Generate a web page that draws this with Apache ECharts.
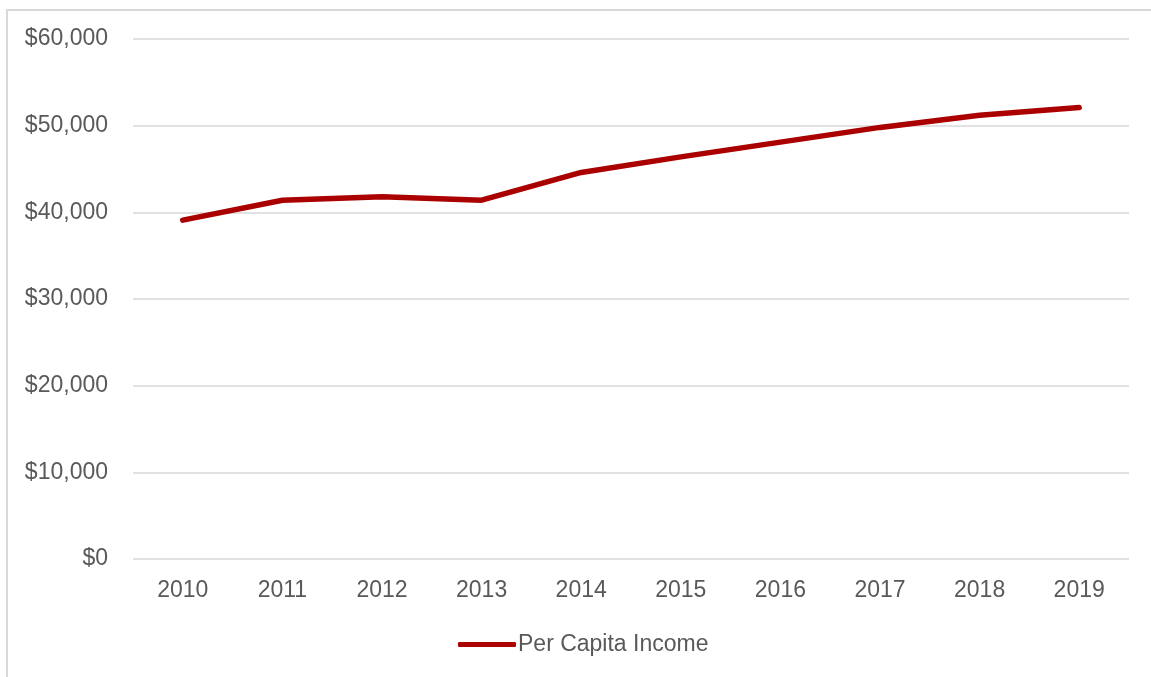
<!DOCTYPE html>
<html>
<head>
<meta charset="utf-8">
<script src="https://cdn.jsdelivr.net/npm/echarts@6/dist/echarts.min.js"></script>
<style>
  html, body { margin: 0; padding: 0; background: #fff; overflow: hidden; }
  #chart { width: 1151px; height: 677px; }
</style>
</head>
<body>
<div id="chart"></div>
<script>
// Per capita income by year
const years = ['2010', '2011', '2012', '2013', '2014', '2015', '2016', '2017', '2018', '2019'];
const perCapitaIncome = [39100, 41400, 41800, 41400, 44600, 46400, 48100, 49800, 51200, 52100];
const seriesName = 'Per Capita Income';

const textColor = '#595959';
const gridColor = '#d9d9d9';
const lineColor = '#ab0000';
const fontFamily = '"Liberation Sans", Arial, sans-serif';

const chart = echarts.init(document.getElementById('chart'), null, { renderer: 'canvas' });

chart.setOption({
  animation: false,
  backgroundColor: '#fff',
  textStyle: { fontFamily: fontFamily },
  graphic: [{
    type: 'rect',
    silent: true,
    z: -10,
    shape: { x: 7, y: 10, width: 1300, height: 800 },
    style: { fill: 'none', stroke: gridColor, lineWidth: 2 }
  }],
  grid: { left: 133, right: 22, top: 39, bottom: 118 },
  legend: {
    data: [seriesName],
    left: 453,
    top: 628,
    icon: 'roundRect',
    itemWidth: 58,
    itemHeight: 5,
    itemGap: 10,
    textStyle: { color: textColor, fontSize: 23, fontFamily: fontFamily, padding: [0, 0, 0, -3] }
  },
  xAxis: {
    type: 'category',
    data: years,
    boundaryGap: true,
    axisLine: { show: false },
    axisTick: { show: false },
    axisLabel: { color: textColor, fontSize: 23, margin: 20, fontFamily: fontFamily }
  },
  yAxis: {
    type: 'value',
    min: 0,
    max: 60000,
    interval: 10000,
    axisLine: { show: false },
    axisTick: { show: false },
    splitLine: { lineStyle: { color: gridColor, width: 1.5 } },
    axisLabel: {
      color: textColor,
      fontSize: 23,
      margin: 25,
      fontFamily: fontFamily,
      padding: [3, 0, 0, 0],
      formatter: v => '$' + v.toLocaleString('en-US')
    }
  },
  series: [{
    name: seriesName,
    type: 'line',
    data: perCapitaIncome,
    showSymbol: false,
    symbol: 'none',
    color: lineColor,
    lineStyle: { color: lineColor, width: 5.5, cap: 'round', join: 'round' },
    itemStyle: { color: lineColor }
  }]
});
</script>
</body>
</html>
